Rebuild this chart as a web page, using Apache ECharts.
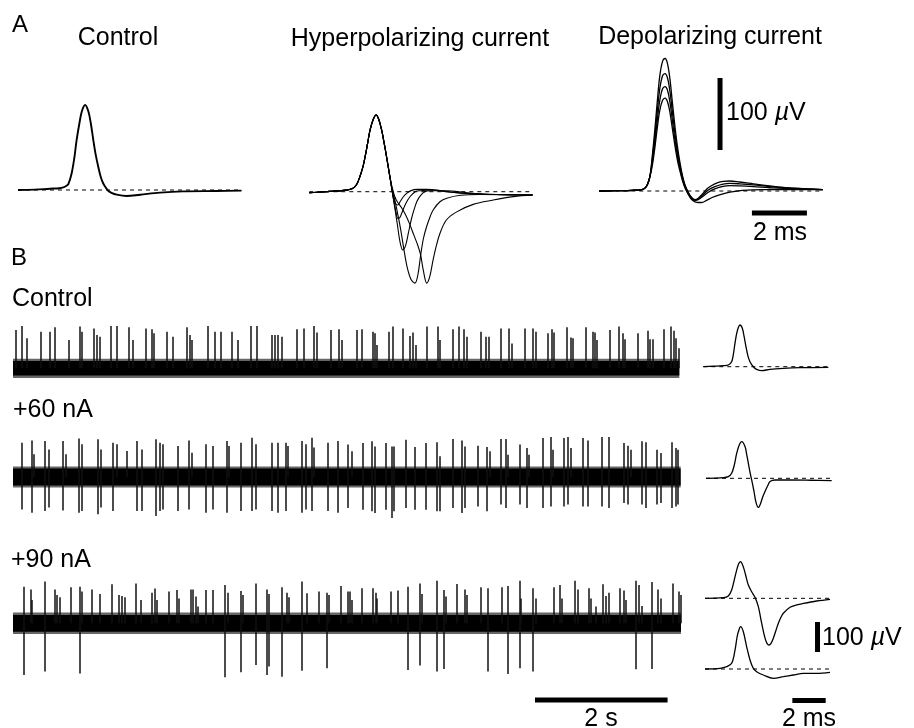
<!DOCTYPE html>
<html><head><meta charset="utf-8">
<script src="https://cdn.jsdelivr.net/npm/echarts@6/dist/echarts.min.js"></script>
<style>html,body{margin:0;padding:0;background:#fff}#c{width:914px;height:728px}</style>
</head><body><div id="c"></div>
<script>
// ---------------- DATA ----------------
// Panel A waveforms: [time ms, amplitude µV]
const ctrlA = [[0,0],[0.6,0.5],[1.16,1.8],[1.5,2.5],[1.65,3.7],[1.75,5.5],[1.83,8.3],[1.95,23],[2.05,45],[2.13,69],[2.23,92],[2.32,109],[2.44,118],[2.56,109],[2.65,92],[2.74,69],[2.83,48],[2.92,32],[3.01,18],[3.1,9],[3.2,3],[3.28,-1],[3.4,-4],[3.59,-6.5],[3.95,-8.3],[4.44,-6.5],[5.16,-3.7],[6.0,-1.9],[7.22,-1.4],[8.13,-0.9]];
const hypCommon = [[0,-1.4],[0.75,0.4],[1.36,2.2],[1.55,4],[1.66,6.9],[1.75,12],[1.84,21],[1.94,33],[2.03,48.7],[2.12,67],[2.21,85.7],[2.32,100],[2.43,106.5],[2.53,100],[2.63,85.7],[2.71,70],[2.79,53],[2.86,37],[2.93,21]];
const hypTail1 = [[3.0,4],[3.07,-10],[3.15,-17],[3.22,-18.5],[3.3,-14],[3.42,-7],[3.54,-2.3],[3.7,1.5],[3.91,3.2],[4.27,3.2],[5.0,0],[5.96,-3.2],[7.18,-4],[8.12,-4.6]];
const hypTail2 = [[3.0,4],[3.08,-14],[3.15,-28],[3.22,-37],[3.29,-36],[3.36,-30],[3.5,-17],[3.66,-7],[3.85,0],[4.03,1.4],[4.51,2.3],[5.24,-0.9],[6.2,-3.2],[8.12,-4.6]];
const hypTail3 = [[3.0,4],[3.1,-20],[3.2,-45],[3.3,-70],[3.4,-81],[3.5,-75],[3.6,-58],[3.7,-40],[3.8,-26],[3.92,-13],[4.05,-5],[4.2,0],[4.39,1.4],[5.0,1.4],[5.73,-1.4],[6.5,-3.5],[8.12,-4.6]];
const hypTail4 = [[3.0,6],[3.1,-10],[3.2,-28],[3.32,-52],[3.44,-80],[3.56,-105],[3.7,-122],[3.84,-127],[3.95,-115],[4.05,-88],[4.15,-65],[4.27,-48],[4.4,-34],[4.51,-25],[4.75,-14],[5.0,-9],[5.5,-5],[6.2,-3.8],[8.12,-4.6]];
const hypTail5 = [[3.0,8],[3.1,-6],[3.2,-14],[3.35,-22],[3.5,-32],[3.65,-45],[3.8,-60],[3.95,-75],[4.05,-88],[4.15,-110],[4.27,-127],[4.38,-118],[4.5,-95],[4.62,-75],[4.75,-58],[4.99,-39],[5.36,-28],[5.96,-17.6],[6.69,-11.6],[7.42,-6.9],[8.12,-4.6]];
const depRise = [[0,0],[0.6,0.5],[1.2,1.0],[1.55,2],[1.66,4],[1.75,9],[1.84,20]];
const dep1 = [[1.93,50],[2.02,85],[2.11,125],[2.2,160],[2.3,180],[2.39,184],[2.48,177],[2.57,155],[2.66,122],[2.75,90],[2.84,62],[2.93,40],[3.02,22],[3.12,8],[3.24,-2],[3.36,-9],[3.48,-12],[3.6,-10],[3.75,-4],[3.95,4],[4.2,10],[4.5,13.5],[4.75,13.9],[5.1,12.5],[5.6,10],[6.2,7],[7.0,4],[8.12,2]];
const dep2 = [[1.93,45],[2.02,76],[2.11,111],[2.2,142],[2.3,160],[2.39,163],[2.48,157],[2.57,138],[2.66,109],[2.75,80],[2.84,55],[2.93,36],[3.02,20],[3.12,7],[3.24,-3],[3.36,-10],[3.48,-12.5],[3.6,-11],[3.75,-6],[3.95,1],[4.2,6],[4.5,9.5],[4.75,10.6],[5.1,10],[5.6,8.5],[6.2,6],[7.0,4],[8.12,2]];
const dep3 = [[1.93,40],[2.02,68],[2.11,99],[2.2,126],[2.3,142],[2.39,145],[2.48,140],[2.57,123],[2.66,97],[2.75,71],[2.84,49],[2.93,32],[3.02,17],[3.12,5],[3.24,-4],[3.36,-11],[3.48,-13],[3.6,-12],[3.75,-8],[3.95,-2],[4.2,3],[4.5,6.5],[4.75,7.4],[5.1,7],[5.6,6],[6.2,4.5],[7.0,3],[8.12,2]];
const dep4 = [[1.93,36],[2.02,60],[2.11,88],[2.2,112],[2.3,126],[2.39,129],[2.48,124],[2.57,109],[2.66,86],[2.75,63],[2.84,43],[2.93,28],[3.02,15],[3.12,4],[3.24,-5],[3.36,-12],[3.48,-15],[3.6,-16],[3.72,-16],[3.9,-13],[4.1,-9],[4.4,-5],[4.75,-1.5],[5.2,1],[6.0,2],[7.0,2],[8.12,2]];

// Panel B averaged waveforms: [time ms, µV]
const ctrlB = [[0,0],[0.6,1.5],[1.2,3.3],[1.5,5.6],[1.7,16.7],[1.8,40],[1.9,77.8],[2.0,110],[2.1,131],[2.2,139],[2.34,128],[2.45,100],[2.56,66.7],[2.68,35],[2.8,16.7],[3.0,0],[3.2,-8.9],[3.5,-13.3],[4.0,-8.9],[4.8,-5.6],[5.8,-3.3],[7.5,-2.2]];
const p60B = [[0,0],[1.04,2.2],[1.34,5.6],[1.54,16.7],[1.7,45],[1.84,83],[2.0,112],[2.14,122],[2.34,106],[2.44,80],[2.54,50],[2.64,20],[2.74,-5.6],[2.88,-44],[3.0,-80],[3.14,-97],[3.28,-83],[3.4,-62],[3.54,-44],[3.7,-25],[3.84,-11],[4.14,-5.6],[5.04,-5.6],[6.3,-6.5],[7.54,-7.8]];
const p90aB = [[0,0],[1.1,2.2],[1.4,7.8],[1.6,27.8],[1.75,60],[1.9,94],[2.02,115],[2.14,122],[2.25,112],[2.36,94],[2.48,68],[2.6,44],[2.8,22],[3.0,3.3],[3.2,-28],[3.4,-83],[3.6,-133],[3.72,-150],[3.84,-156],[3.96,-150],[4.1,-133],[4.25,-108],[4.4,-83],[4.55,-64],[4.7,-50],[5.1,-30],[5.5,-22],[5.9,-17],[6.7,-9],[7.5,-3.3]];
const p90bB = [[0,0],[0.9,2.2],[1.3,7.8],[1.6,18.9],[1.8,63],[1.92,105],[2.0,124],[2.14,141],[2.3,124],[2.5,74],[2.7,30],[2.9,2.2],[3.1,-8.9],[3.5,-20],[4.1,-31],[4.7,-25.6],[5.3,-20],[5.9,-14.4],[6.7,-14.4],[7.5,-11]];

// Panel B spike trains: [time s, peak µV, trough µV]
const ctrlSpikes = [[0.035,128,0],[0.135,141,0],[0.2,100,0],[0.42,122,0],[0.55,122,0],[0.63,137,0],[0.84,94,0],[1.0,139,0],[1.04,122,0],[1.22,133,0],[1.27,111,0],[1.31,105,0],[1.47,141,0],[1.56,141,0],[1.74,137,0],[1.81,94,0],[2.0,133,0],[2.1,130,0],[2.13,117,0],[2.32,122,0],[2.41,105,0],[2.62,137,0],[2.66,111,0],[2.7,94,0],[2.93,141,0],[3.05,122,0],[3.13,122,0],[3.3,122,0],[3.39,94,0],[3.59,141,0],[3.67,141,0],[3.91,111,0],[3.95,111,0],[3.99,111,0],[4.06,105,0],[4.28,130,0],[4.38,133,0],[4.54,141,0],[4.58,119,0],[4.79,128,0],[4.92,130,0],[4.96,94,0],
[5.19,128,0],[5.26,130,0],[5.43,122,0],[5.46,117,0],[5.49,78,0],[5.67,122,0],[5.73,139,0],[5.88,133,0],[5.99,108,0],[6.03,119,0],[6.07,78,0],[6.24,139,0],[6.40,139,0],[6.44,94,0],[6.64,130,0],[6.72,139,0],[6.80,130,0],[6.84,105,0],[7.06,122,0],[7.13,105,0],[7.17,105,0],[7.35,133,0],[7.48,133,0],[7.53,83,0],[7.72,133,0],[7.84,133,0],[7.88,122,0],[8.06,117,0],[8.13,130,0],[8.15,119,0],[8.35,137,0],[8.41,103,0],[8.44,100,0],[8.64,137,0],[8.74,122,0],[8.78,119,0],[8.81,94,0],[9.0,128,0],[9.14,139,0],[9.19,117,0],[9.22,97,0],[9.43,117,0],[9.57,125,0],[9.61,97,0],[9.65,97,0],[9.81,130,0],[9.92,139,0],[9.96,125,0],[10.0,100,0],[10.04,67,0]];
const p60Spikes = [[0.126,114,-108],[0.277,122,-119],[0.317,76,0],[0.478,120,-113],[0.543,92,-102],[0.754,120,-112],[0.795,76,0],[0.991,128,-119],[1.041,109,-113],[1.273,126,-124],[1.323,92,-102],[1.508,114,-113],[1.569,109,0],[1.71,87,0],[1.861,120,-113],[1.937,92,-113],[2.152,126,-130],[2.213,114,-113],[2.263,109,-108],[2.489,103,-113],[2.655,122,-108],[2.691,81,0],[2.902,109,-119],[3.017,103,-108],[3.219,120,-119],[3.258,103,0],[3.43,114,-113],[3.605,131,-113],[3.661,109,-108],[3.897,114,-113],[3.988,114,-119],[4.113,114,-113],[4.139,103,0],[4.35,120,-119],[4.415,109,-108],[4.51,131,-113],[4.54,98,0],[4.751,114,-113],[4.902,120,-119],
[5.053,108,-103],[5.104,86,0],[5.27,113,-109],[5.406,119,-114],[5.456,102,-120],[5.621,113,-109],[5.707,102,-137],[5.742,102,-114],[5.923,124,-103],[6.059,100,-109],[6.225,113,-109],[6.386,116,-114],[6.436,69,-114],[6.637,127,-103],[6.763,122,-120],[6.813,102,-103],[7.014,104,-98],[7.14,100,-114],[7.19,86,0],[7.356,127,-92],[7.427,127,-103],[7.466,74,0],[7.643,108,-92],[7.744,97,-103],[7.783,74,0],[7.994,130,-103],[8.106,133,-98],[8.145,91,0],[8.306,130,-98],[8.371,133,-92],[8.407,97,0],[8.597,130,-98],[8.673,122,-98],[8.874,133,-98],[8.98,133,-103],[9.211,113,-87],[9.276,104,-92],[9.312,91,0],[9.478,119,-92],[9.543,116,-103],[9.704,91,-92],[9.765,80,-87],[9.931,116,-103],[9.995,97,-98],[10.03,91,-92]];
const p90Spikes = [[0.16,122,-172],[0.261,113,0],[0.286,78,0],[0.472,139,-161],[0.628,113,0],[0.663,94,0],[0.703,87,0],[0.874,120,0],[1.0,122,-167],[1.03,106,0],[1.191,113,0],[1.302,98,0],[1.493,130,0],[1.593,94,0],[1.643,91,0],[1.679,87,0],[1.845,133,0],[1.92,78,0],[2.096,102,0],[2.131,116,0],[2.172,78,0],[2.347,106,0],[2.463,111,0],[2.498,83,0],[2.674,113,0],[2.715,113,0],[2.75,89,0],[2.79,56,0],[2.9,111,0],[3.016,111,0],[3.187,128,-180],[3.237,102,0],[3.439,108,-163],[3.463,94,0],[3.655,133,-139],[3.821,113,-172],[3.861,98,-144],[4.047,120,-178],[4.133,102,0],[4.163,87,0],[4.348,139,-158],[4.424,100,0],[4.61,106,0],[4.736,102,-150],[4.76,94,0],[4.947,124,0],
[5.047,106,0],[5.077,106,0],[5.113,78,0],[5.264,117,0],[5.424,117,0],[5.465,102,0],[5.49,83,0],[5.691,106,0],[5.801,109,0],[5.958,122,-156],[6.128,133,-141],[6.169,98,0],[6.385,142,-161],[6.495,111,-152],[6.525,89,0],[6.697,131,0],[6.807,113,0],[6.837,94,0],[7.048,120,0],[7.164,117,-161],[7.365,120,0],[7.466,124,-169],[7.637,142,-150],[7.662,83,0],[7.843,117,-161],[7.878,83,0],[8.16,120,0],[8.24,128,0],[8.27,83,0],[8.466,142,0],[8.522,113,0],[8.688,117,0],[8.718,83,0],[8.783,56,0],[8.899,130,0],[8.934,91,0],[8.984,102,0],[9.145,117,0],[9.205,109,0],[9.235,78,0],[9.386,142,-153],[9.436,128,0],[9.477,58,0],[9.638,138,-152],[9.729,113,0],[9.763,83,0],[9.955,133,0],[10.04,106,0],[10.075,94,0]];
// recording durations (s) and background-noise envelope (µV)
const traceEnd = [10.05, 10.07, 10.075];
const noiseCore = [24, 28, 28];
const noiseFringe = [32, 35, 36];

// scale bar values
const barUV = 100, barMs = 2, barS = 2;

// ---------------- LAYOUT / STYLE ----------------
const FONT = '"Liberation Sans", Arial, Helvetica, sans-serif';
const grids = [], xAxes = [], yAxes = [], series = [];
function addGrid(left, top, pxX, pxY, xmax, ymin, ymax) {
  const i = grids.length;
  grids.push({left: left, top: top, width: xmax * pxX, height: (ymax - ymin) * pxY});
  xAxes.push({type:'value', gridIndex:i, min:0, max:xmax, show:false});
  yAxes.push({type:'value', gridIndex:i, min:ymin, max:ymax, show:false});
  return i;
}
function wave(g, data, w) {
  series.push({type:'line', xAxisIndex:g, yAxisIndex:g, data:data, showSymbol:false, symbol:'none', smooth:0.35,
    lineStyle:{color:'#000', width:w}, silent:true, clip:false});
}
function dashed(g, xmax) {
  series.push({type:'line', xAxisIndex:g, yAxisIndex:g, data:[[0,0],[xmax,0]], symbol:'none',
    lineStyle:{color:'#000', width:1, type:[4,4]}, silent:true});
}
function bar(g, p1, p2, w) {
  series.push({type:'line', xAxisIndex:g, yAxisIndex:g, data:[p1,p2], symbol:'none',
    lineStyle:{color:'#000', width:w, cap:'butt'}, silent:true, clip:false});
}
function train(g, spikes, end, core, fringe) {
  series.push({type:'line', xAxisIndex:g, yAxisIndex:g, data:[[0,0],[end,0]], symbol:'none',
    lineStyle:{opacity:0}, silent:true,
    markArea:{silent:true, data:[
      [{xAxis:0, yAxis:-fringe, itemStyle:{color:'rgba(0,0,0,0.6)'}},{xAxis:end, yAxis:fringe}],
      [{xAxis:0, yAxis:-core, itemStyle:{color:'#000'}},{xAxis:end, yAxis:core}]
    ]}});
  series.push({type:'lines', coordinateSystem:'cartesian2d', xAxisIndex:g, yAxisIndex:g, silent:true,
    data: spikes.map(s => ({coords:[[s[0], Math.min(s[2], 0)], [s[0], s[1]]]})),
    lineStyle:{color:'#111', width:1.5, opacity:1}});
}

// Panel A : 27.5 px/ms, 0.72 px/µV
const gA1 = addGrid(18, 190 - 165*0.72, 27.5, 0.72, 8.13, -140, 165);
const gA2 = addGrid(309.3, 191.7 - 165*0.72, 27.5, 0.72, 8.12, -140, 165);
const gA3 = addGrid(599.3, 191 - 165*0.72, 27.5, 0.72, 8.12, -140, 165);
dashed(gA1, 8.13); wave(gA1, ctrlA, 1.9);
dashed(gA2, 8.12);
[hypTail1, hypTail2, hypTail3, hypTail4, hypTail5].forEach(t => wave(gA2, hypCommon.concat(t), 1.1));
dashed(gA3, 8.12);
[dep1, dep2, dep3, dep4].forEach(t => wave(gA3, depRise.concat(t), 1.3));
bar(gA3, [4.39, 57], [4.39, 57 + barUV], 5);
bar(gA3, [5.55, -30.6], [5.55 + barMs, -30.6], 5);

// Panel B spike trains : 66.3 px/s, 0.3 px/µV
const gBc = addGrid(13, 368.3 - 160*0.3, 66.3, 0.3, 10.075, -60, 160);
const gB6 = addGrid(13, 477 - 150*0.3, 66.3, 0.3, 10.075, -150, 150);
const gB9 = addGrid(13, 623.3 - 150*0.3, 66.3, 0.3, 10.075, -270, 150);
train(gBc, ctrlSpikes, traceEnd[0], noiseCore[0], noiseFringe[0]);
train(gB6, p60Spikes, traceEnd[1], noiseCore[1], noiseFringe[1]);
train(gB9, p90Spikes, traceEnd[2], noiseCore[2], noiseFringe[2]);
bar(gB9, [7.873, -256], [7.873 + barS, -256], 5);

// Panel B averaged waveforms : 16.67 px/ms, 0.3 px/µV
const gSc = addGrid(703.3, 366.7 - 160*0.3, 16.67, 0.3, 7.5, -60, 160);
const gS6 = addGrid(706, 478.3 - 140*0.3, 16.67, 0.3, 7.54, -120, 140);
const gS9a = addGrid(705, 598.3 - 140*0.3, 16.67, 0.3, 7.5, -170, 140);
const gS9b = addGrid(705, 669 - 160*0.3, 16.67, 0.3, 7.5, -120, 160);
dashed(gSc, 7.5); wave(gSc, ctrlB, 1.3);
dashed(gS6, 7.54); wave(gS6, p60B, 1.3);
dashed(gS9a, 7.5); wave(gS9a, p90aB, 1.3);
dashed(gS9b, 7.5); wave(gS9b, p90bB, 1.3);
bar(gS9b, [6.75, 56.7], [6.75, 56.7 + barUV], 5);
bar(gS9b, [5.24, -105], [5.24 + barMs, -105], 5);

function txt(x, y, s, size, align) {
  return {type:'text', x:x, y:y, silent:true, style:{text:s, fontSize:size, fontFamily:FONT, fill:'#000',
    align: align || 'left', verticalAlign:'middle',
    rich:{i:{fontStyle:'italic', fontSize:size, fontFamily:FONT, fill:'#000'}}}};
}
const graphic = [
  txt(12, 25, 'A', 24), txt(118, 38, 'Control', 25, 'center'),
  txt(420, 39, 'Hyperpolarizing current', 25, 'center'), txt(710, 37, 'Depolarizing current', 25, 'center'),
  txt(726, 113, '100 {i|µ}V', 25), txt(780, 233, '2 ms', 25, 'center'),
  txt(11, 258, 'B', 24),
  txt(12, 299, 'Control', 25), txt(13, 410, '+60 nA', 25), txt(11, 560, '+90 nA', 25),
  txt(822, 638, '100 {i|µ}V', 25), txt(809, 719, '2 ms', 25, 'center'), txt(601, 719, '2 s', 25, 'center')
];

const chart = echarts.init(document.getElementById('c'), null, {renderer:'canvas'});
chart.setOption({animation:false, backgroundColor:'#fff', grid:grids, xAxis:xAxes, yAxis:yAxes, series:series, graphic:graphic});
</script></body></html>
